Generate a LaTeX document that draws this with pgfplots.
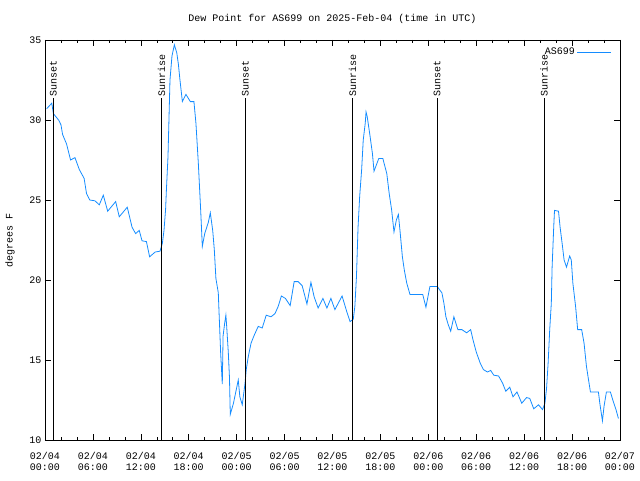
\documentclass[border=0pt]{standalone}
\usepackage{pgfplots}
\pgfplotsset{compat=1.18}
\usepackage{fontspec}
\setmainfont{Liberation Mono}
\definecolor{dewblue}{RGB}{20,140,255}
\begin{document}
\fontsize{10}{11}\selectfont
\begin{tikzpicture}
\begin{axis}[
  at={(0pt,0pt)}, anchor=south west,
  scale only axis, width=575pt, height=400pt,
  xmin=0, xmax=72, ymin=10, ymax=35,
  xtick={0,6,...,72},
  xticklabels={{02/04\\00:00},{02/04\\06:00},{02/04\\12:00},{02/04\\18:00},{02/05\\00:00},{02/05\\06:00},{02/05\\12:00},{02/05\\18:00},{02/06\\00:00},{02/06\\06:00},{02/06\\12:00},{02/06\\18:00},{02/07\\00:00}},
  xticklabel style={align=center, font=\fontsize{10}{10.5}\selectfont, yshift=-9pt},
  minor x tick num=2,
  ytick={10,15,...,35},
  yticklabel style={font=\fontsize{10}{11}\selectfont},
  /pgf/number format/assume math mode=true,
  tick align=inside,
  major tick length=6pt, minor tick length=3pt,
  tick style={black, line width=0.6pt},
  axis line style={line width=0.8pt},
  legend plot pos=right,
  legend style={draw=none, fill=none, at={(1,1)}, anchor=north east, xshift=-8pt, yshift=-6pt, inner sep=0pt, font=\fontsize{10}{11}\selectfont},
  legend cell align=right,
  legend image code/.code={\path (0pt,0pt) -- (34pt,0pt); \draw[#1] (7pt,0pt) -- (34pt,0pt);},
  clip=false,
]
\addplot[dewblue, line width=0.8pt] coordinates {
(0.2,30.7) (0.85,31.05) (1.05,30.4) (1.7,30.0) (2.0,29.7) (2.2,29.1) (2.7,28.5) (3.2,27.5) (3.75,27.65) (4.3,26.9) (4.9,26.35) (5.2,25.4) (5.6,25.0) (6.25,24.95) (6.8,24.7) (7.3,25.3) (7.85,24.3) (8.85,24.9) (9.3,23.95) (10.3,24.55) (10.9,23.3) (11.35,22.9) (11.8,23.1) (12.15,22.45) (12.7,22.4) (13.1,21.45) (13.8,21.75) (14.4,21.8) (14.7,22.3) (14.9,23.1) (15.1,24.4) (15.2,25.6) (15.4,27.7) (15.5,29.6) (15.65,32.5) (15.9,34.0) (16.2,34.7) (16.5,34.2) (16.7,33.5) (16.9,32.5) (17.2,31.15) (17.65,31.6) (18.2,31.15) (18.65,31.15) (18.9,29.8) (19.2,27.3) (19.5,24.3) (19.7,22.1) (20.0,22.9) (20.45,23.6) (20.7,24.2) (21.0,23.1) (21.2,21.9) (21.4,20.1) (21.7,19.2) (21.8,17.9) (22.0,15.4) (22.2,13.5) (22.3,16.5) (22.5,17.3) (22.65,17.8) (22.75,17.1) (22.95,15.5) (23.1,13.9) (23.2,11.6) (23.6,12.3) (24.2,13.75) (24.4,12.7) (24.7,12.2) (25.05,13.55) (25.2,14.4) (25.45,15.2) (25.8,16.05) (26.2,16.55) (26.7,17.1) (27.2,17.0) (27.7,17.8) (28.3,17.7) (28.8,17.9) (29.2,18.35) (29.6,19.0) (30.1,18.85) (30.7,18.4) (31.2,19.9) (31.7,19.9) (32.2,19.65) (32.8,18.5) (33.3,19.85) (33.7,18.95) (34.2,18.25) (34.8,18.85) (35.3,18.25) (35.8,18.85) (36.3,18.15) (37.2,19.0) (37.8,18.0) (38.2,17.4) (38.6,17.55) (38.8,18.35) (39.0,20.2) (39.2,23.3) (39.4,25.2) (39.65,26.9) (39.85,28.75) (40.1,29.8) (40.2,30.5) (40.35,30.2) (40.7,29.0) (41.0,27.9) (41.2,26.8) (41.8,27.6) (42.3,27.6) (42.8,26.65) (43.1,25.4) (43.4,24.4) (43.7,23.0) (44.0,23.75) (44.25,24.1) (44.45,23.1) (44.75,21.45) (45.0,20.6) (45.3,19.8) (45.7,19.1) (46.5,19.1) (47.3,19.1) (47.7,18.3) (48.2,19.6) (48.7,19.6) (49.1,19.6) (49.7,19.2) (49.95,18.55) (50.2,17.7) (50.5,17.2) (50.8,16.8) (51.2,17.7) (51.7,16.9) (52.2,16.9) (52.8,16.7) (53.3,16.9) (53.6,16.25) (54.0,15.5) (54.5,14.8) (54.9,14.4) (55.4,14.25) (55.8,14.35) (56.2,14.05) (56.8,14.0) (57.3,13.55) (57.7,13.05) (58.2,13.3) (58.6,12.7) (59.1,13.0) (59.7,12.3) (60.3,12.65) (60.7,12.6) (61.2,11.95) (61.8,12.2) (62.3,11.9) (62.6,12.3) (62.8,13.2) (63.0,14.8) (63.2,16.9) (63.4,18.55) (63.5,20.8) (63.7,23.3) (63.8,24.35) (64.3,24.3) (64.5,23.3) (64.8,22.1) (65.0,21.25) (65.3,20.8) (65.7,21.5) (65.9,21.25) (66.1,19.8) (66.45,18.3) (66.7,16.9) (67.2,16.9) (67.5,16.05) (67.8,14.6) (68.0,13.95) (68.3,13.0) (69.3,13.0) (69.5,12.2) (69.8,11.2) (70.0,12.1) (70.3,13.0) (70.8,13.0) (71.1,12.5) (71.5,11.9) (71.8,11.35)
};
\addlegendentry{AS699}
\addplot[black, line width=0.8pt, forget plot] coordinates {(1.04,10) (1.04,31.35)};
\addplot[black, line width=0.8pt, forget plot] coordinates {(14.6,10) (14.6,31.35)};
\addplot[black, line width=0.8pt, forget plot] coordinates {(25.1,10) (25.1,31.35)};
\addplot[black, line width=0.8pt, forget plot] coordinates {(38.5,10) (38.5,31.35)};
\addplot[black, line width=0.8pt, forget plot] coordinates {(49.1,10) (49.1,31.35)};
\addplot[black, line width=0.8pt, forget plot] coordinates {(62.5,10) (62.5,31.35)};
\node[rotate=90, anchor=west, inner sep=0pt] at (axis cs:1.04,31.45) {Sunset};
\node[rotate=90, anchor=west, inner sep=0pt] at (axis cs:14.6,31.45) {Sunrise};
\node[rotate=90, anchor=west, inner sep=0pt] at (axis cs:25.1,31.45) {Sunset};
\node[rotate=90, anchor=west, inner sep=0pt] at (axis cs:38.5,31.45) {Sunrise};
\node[rotate=90, anchor=west, inner sep=0pt] at (axis cs:49.1,31.45) {Sunset};
\node[rotate=90, anchor=west, inner sep=0pt] at (axis cs:62.5,31.45) {Sunrise};
\end{axis}
\node at (287.5pt,421pt) {Dew Point for AS699 on 2025-Feb-04 (time in UTC)};
\node[rotate=90] at (-35pt,200pt) {degrees F};
\path[use as bounding box] (-45pt,-40pt) rectangle (595pt,440pt);
\end{tikzpicture}
\end{document}
